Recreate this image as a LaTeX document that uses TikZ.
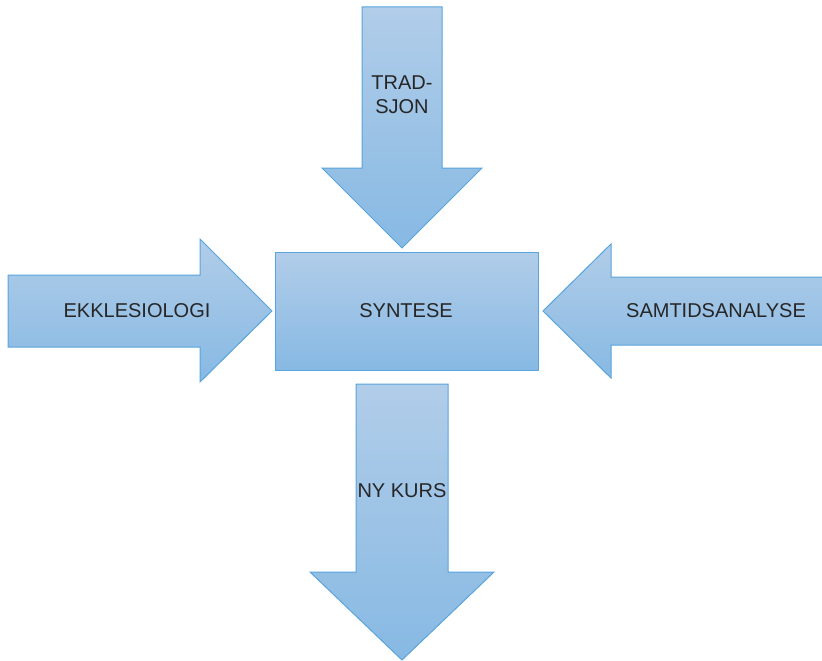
\documentclass[tikz,border=0pt]{standalone}
\usepackage{fontspec}
\setmainfont{Liberation Sans}
\definecolor{fillTop}{RGB}{177,205,233}
\definecolor{fillBot}{RGB}{135,185,227}
\definecolor{edgeBlue}{RGB}{88,164,220}
\definecolor{labelGray}{RGB}{38,38,38}
\tikzset{
    blockshape/.style={draw=edgeBlue, line width=1pt, line join=miter, top color=fillTop, bottom color=fillBot},
    blocklabel/.style={text=labelGray, font=\fontsize{20}{24}\selectfont, align=center}
}
\begin{document}
\begin{tikzpicture}[x=1pt, y=-1pt]
    \useasboundingbox (0,0) rectangle (822,661);

    % Arrow from above
    \draw[blockshape] (362,7) -- (442,7) -- (442,168) -- (482,168) -- (402,248) -- (322,168) -- (362,168) -- cycle;
    \node[blocklabel] (tradisjon) at (402,95) {TRAD-\\SJON};

    % Arrow from the left
    \draw[blockshape] (8,275) -- (200,275) -- (200,239) -- (272,311) -- (200,382) -- (200,347) -- (8,347) -- cycle;
    \node[blocklabel] (ekklesiologi) at (137,311) {EKKLESIOLOGI};

    % Centre box
    \draw[blockshape] (275,252) rectangle (538,370);
    \node[blocklabel] (syntese) at (406,311) {SYNTESE};

    % Arrow from the right
    \draw[blockshape] (543,311) -- (611,244) -- (611,277) -- (826,277) -- (826,345) -- (611,345) -- (611,378) -- cycle;
    \node[blocklabel] (samtid) at (716,311) {SAMTIDSANALYSE};

    % Arrow out below
    \draw[blockshape] (356,384) -- (448,384) -- (448,572) -- (494,572) -- (402,660) -- (310,572) -- (356,572) -- cycle;
    \node[blocklabel] (nykurs) at (402,491) {NY KURS};
\end{tikzpicture}
\end{document}
